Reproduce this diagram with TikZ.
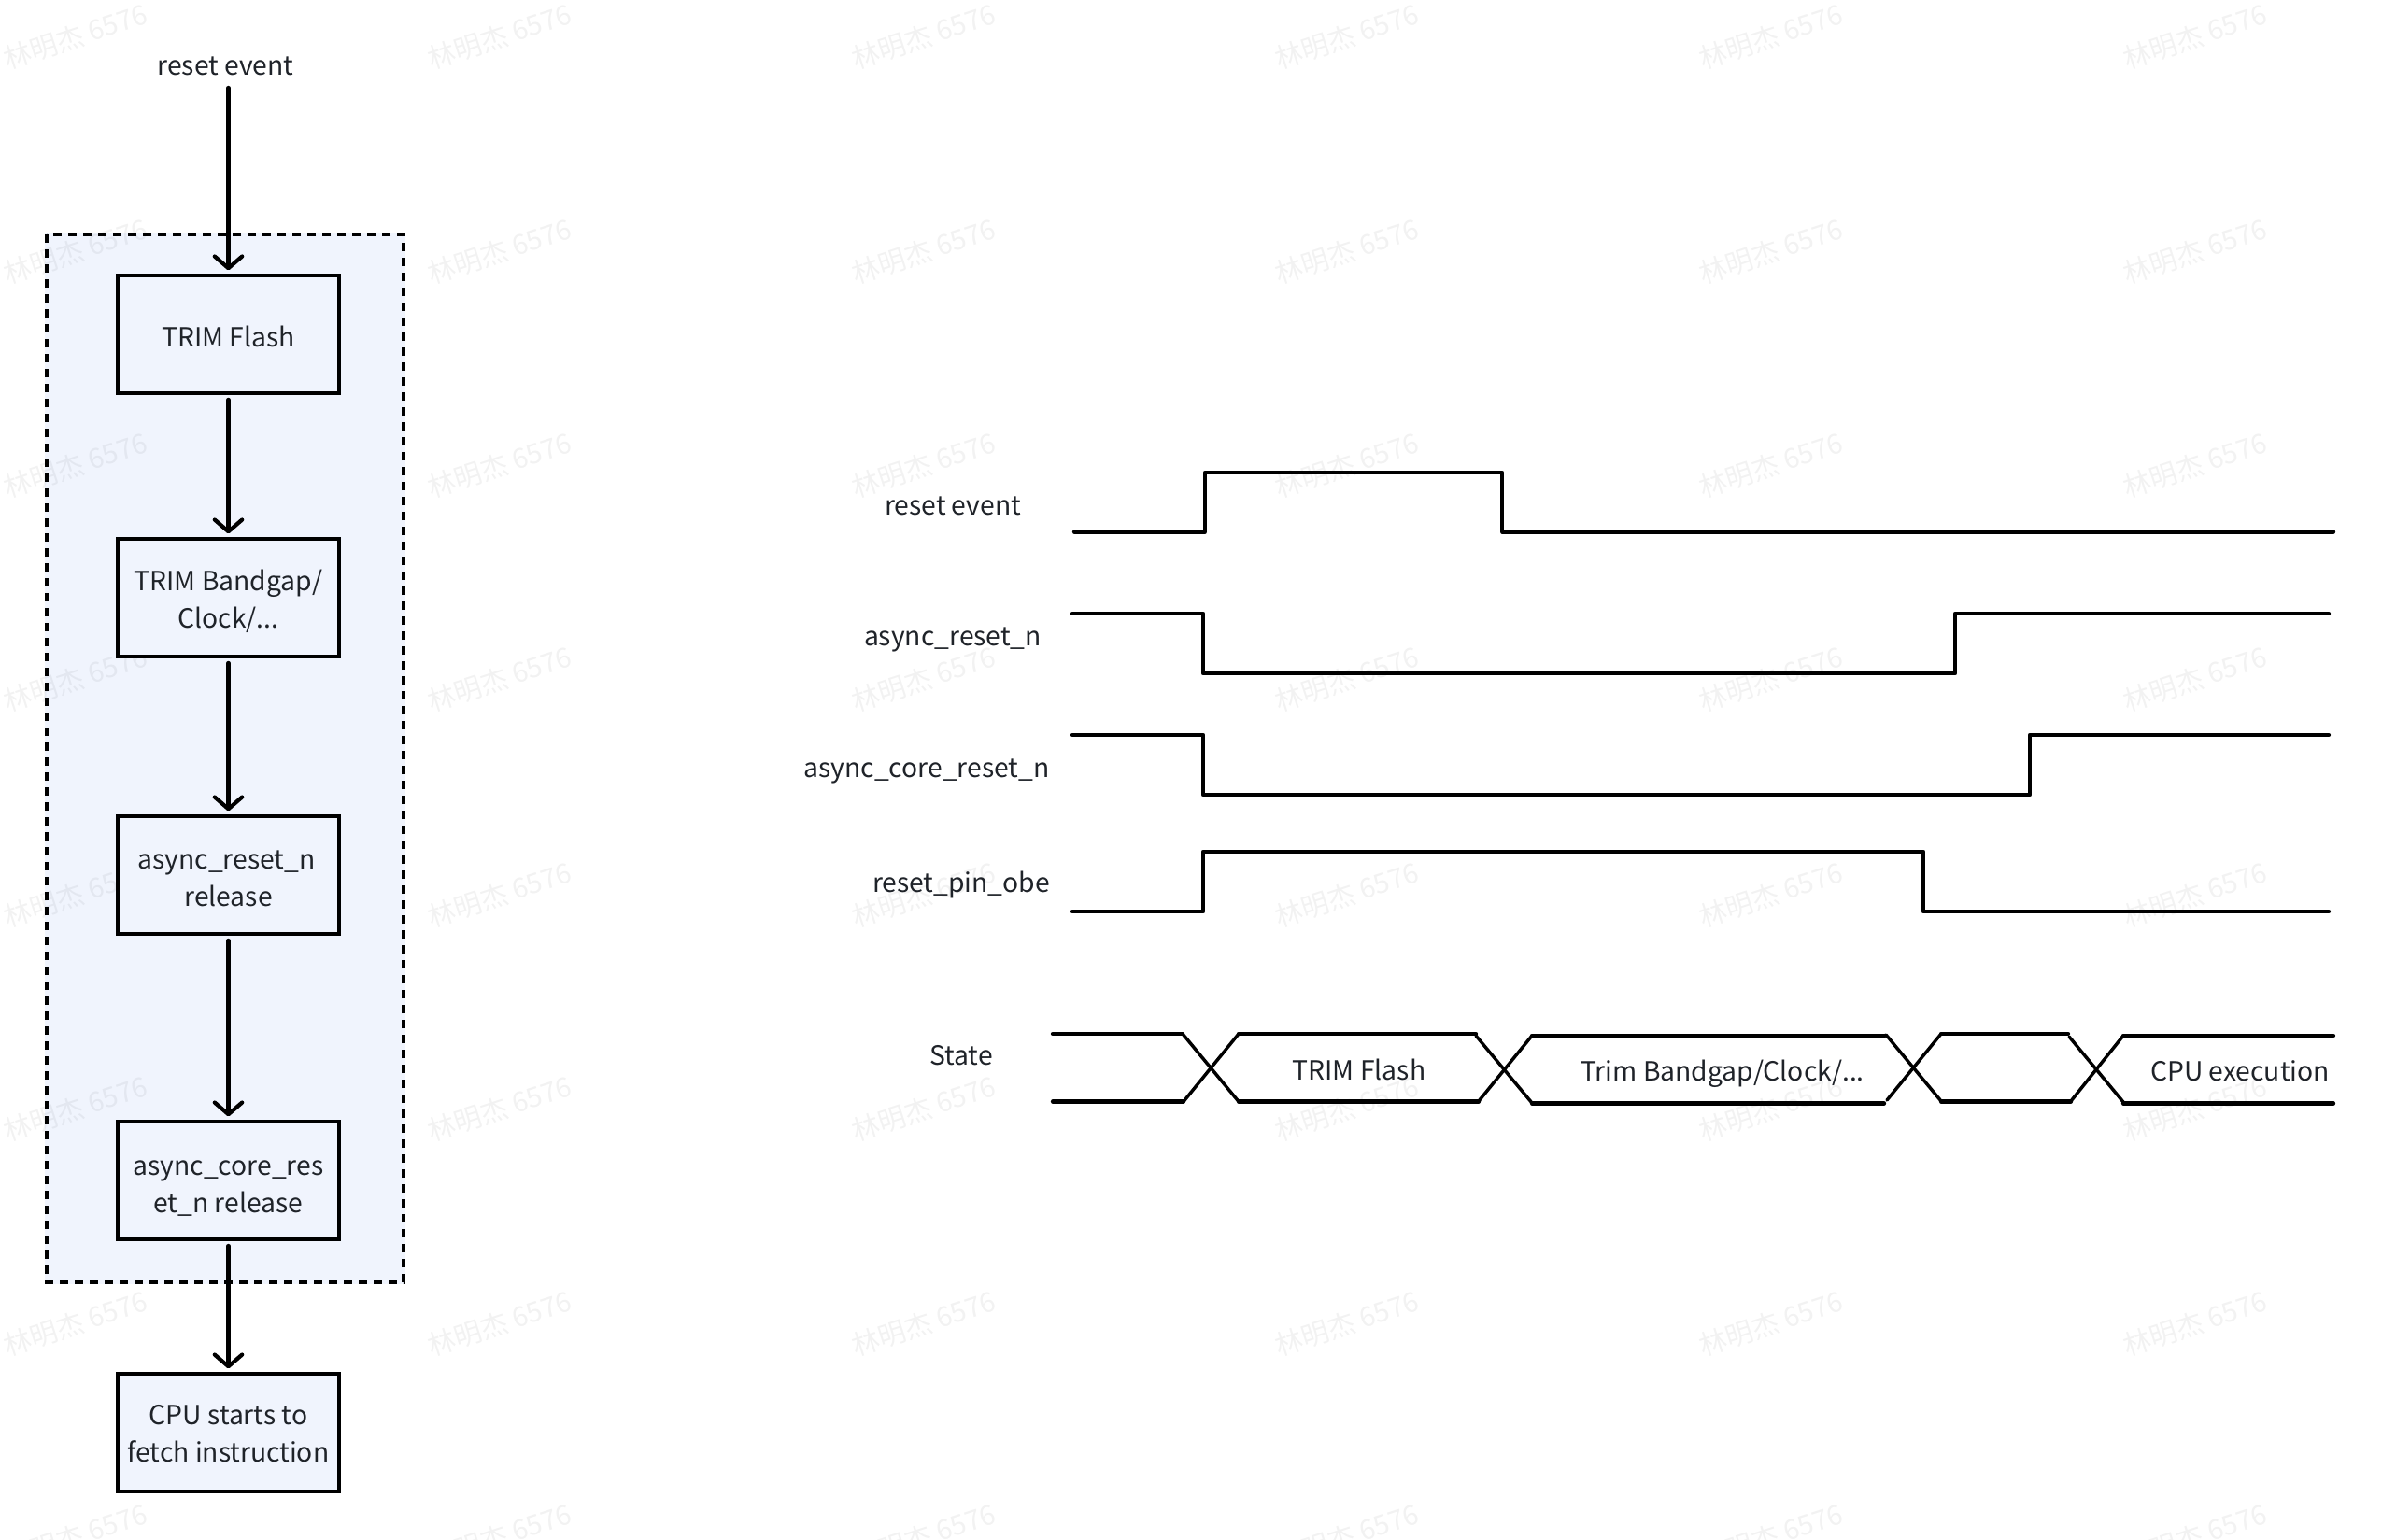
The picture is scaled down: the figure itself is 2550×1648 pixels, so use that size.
\documentclass[tikz,border=0pt]{standalone}
\usepackage{fontspec}
\setmainfont{Noto Sans CJK SC}
\usetikzlibrary{arrows.meta}
\definecolor{inkc}{HTML}{1F2329}
\definecolor{panelc}{HTML}{F0F4FD}
\tikzset{
  every node/.style={font=\fontsize{21.2pt}{30pt}\selectfont,text=inkc,inner sep=0pt,outer sep=0pt},
  flowbox/.style={draw=black,line width=3.2pt,fill=panelc,minimum width=177.5pt,minimum height=94pt,align=center},
  flowarrow/.style={draw=black,line width=3.2pt,line cap=round,-{Straight Barb[length=9.5pt,width=22pt,line width=3.2pt,round]},shorten >=4.5pt,shorten <=5.5pt},
  wave/.style={draw=black,line width=3.2pt,line cap=round,line join=round},
  cross/.style={draw=black,line width=2.6pt,line cap=round},
  label/.style={anchor=center},
  wmark/.style={font=\fontsize{22pt}{24pt}\selectfont,text=black,text opacity=0.05,rotate=18}
}
\newcommand{\boxpad}[1]{\rule{0pt}{#1pt}}
\begin{document}
\begin{tikzpicture}[x=0.75pt,y=-0.75pt]
\useasboundingbox (0,0) rectangle (2550,1648);
\fill[white] (0,0) rectangle (2550,1648);
\fill[panelc] (48,249) rectangle (434,1375);
\foreach \c/\x in {0/81,1/535,2/989,3/1442,4/1896,5/2350}
  \foreach \r/\y in {0/39,1/269,2/498,3/727,4/958,5/1187,6/1417,7/1645}
    \node[wmark] (wm\c\r) at (\x,\y) {林明杰 6576};
\draw[black,line width=3.2pt,dash pattern=on 7pt off 5pt] (50,251) rectangle (432,1373);

\node[label] (lbl) at (241.5,71) {reset event};
\node[flowbox] (b1) at (244.5,358) {\boxpad{20}TRIM Flash};
\node[flowbox] (b2) at (244.5,640) {\boxpad{22}TRIM Bandgap/\\Clock/...};
\node[flowbox] (b3) at (244.5,937) {\boxpad{21}async\_reset\_n\hspace*{3pt}\\release};
\node[flowbox] (b4) at (244.5,1264) {\boxpad{24}async\_core\_res\\et\_n release};
\node[flowbox] (b5) at (244.5,1534) {\boxpad{18}CPU starts to\\fetch instruction};

\draw[flowarrow,shorten <=0pt] (lbl.south -| b1.north) ++(0,13) -- (b1.north);
\draw[flowarrow] (b1) -- (b2);
\draw[flowarrow] (b2) -- (b3);
\draw[flowarrow] (b3) -- (b4);
\draw[flowarrow] (b4) -- (b5);

\node[label] (l1) at (1020,542) {reset event};
\node[label] (l2) at (1020,685) {async\_reset\_n};
\node[label] (l3) at (992,826) {async\_core\_reset\_n};
\node[label] (l4) at (1029,947) {reset\_pin\_obe};
\node[label] (l5) at (1029,1130) {State};

\draw[wave] (1150,569.5) -- (1290,569.5) -- (1290,506) -- (1608,506) -- (1608,569.5) -- (2498,569.5);
\draw[wave] (1148,657) -- (1288,657) -- (1288,721) -- (2093,721) -- (2093,657) -- (2493,657);
\draw[wave] (1148,787) -- (1288,787) -- (1288,851) -- (2173,851) -- (2173,787) -- (2493,787);
\draw[wave] (1148,976) -- (1288,976) -- (1288,912) -- (2059,912) -- (2059,976) -- (2493,976);

\draw[wave] (1127,1107) -- (1266,1107);
\draw[wave] (1127,1179.5) -- (1267,1179.5);
\draw[cross] (1266,1107) -- (1326,1179.5);
\draw[cross] (1267,1179.5) -- (1326,1107);
\draw[wave] (1326,1107) -- (1580,1107);
\draw[wave] (1326,1179.5) -- (1583,1179.5);
\draw[cross] (1580,1109) -- (1640,1181);
\draw[cross] (1583,1179) -- (1640,1109);
\draw[wave] (1640,1109) -- (2018,1109);
\draw[wave] (1640,1181.5) -- (2017,1181.5);
\draw[cross] (2019,1108) -- (2078,1179);
\draw[cross] (2020,1178) -- (2078,1107);
\draw[wave] (2078,1107) -- (2214,1107);
\draw[wave] (2078,1179.5) -- (2217,1179.5);
\draw[cross] (2215,1110) -- (2273,1180);
\draw[cross] (2217,1179) -- (2273,1109);
\draw[wave] (2273,1109) -- (2498,1109);
\draw[wave] (2273,1181.5) -- (2498,1181.5);

\node[label] (s1) at (1455,1145) {TRIM Flash};
\node[label] (s2) at (1844,1150) {Trim Bandgap/Clock/...};
\node[label] (s3) at (2398,1147) {CPU execution};
\end{tikzpicture}
\end{document}
